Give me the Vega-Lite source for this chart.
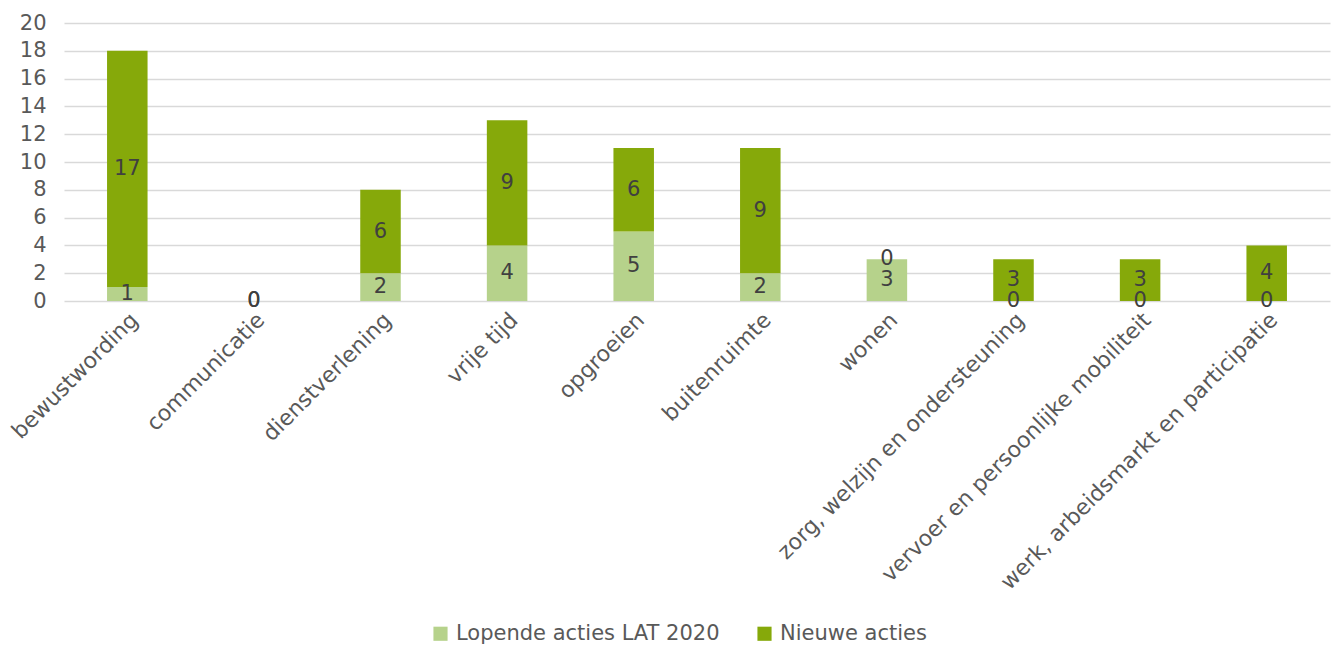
{
  "$schema": "https://vega.github.io/schema/vega-lite/v6.json",
  "autosize": "none",
  "width": 1266,
  "height": 278,
  "padding": {"left": 64, "top": 23, "right": 1, "bottom": 345},
  "background": "white",
  "config": {"view": {"stroke": null}, "font": "DejaVu Sans"},
  "data": {"values": [
    {"cat": "bewustwording", "ci": 1, "serie": "Lopende acties LAT 2020", "so": 1, "v": 1},
    {"cat": "bewustwording", "ci": 1, "serie": "Nieuwe acties", "so": 2, "v": 17},
    {"cat": "communicatie", "ci": 2, "serie": "Lopende acties LAT 2020", "so": 1, "v": 0},
    {"cat": "communicatie", "ci": 2, "serie": "Nieuwe acties", "so": 2, "v": 0},
    {"cat": "dienstverlening", "ci": 3, "serie": "Lopende acties LAT 2020", "so": 1, "v": 2},
    {"cat": "dienstverlening", "ci": 3, "serie": "Nieuwe acties", "so": 2, "v": 6},
    {"cat": "vrije tijd", "ci": 4, "serie": "Lopende acties LAT 2020", "so": 1, "v": 4},
    {"cat": "vrije tijd", "ci": 4, "serie": "Nieuwe acties", "so": 2, "v": 9},
    {"cat": "opgroeien", "ci": 5, "serie": "Lopende acties LAT 2020", "so": 1, "v": 5},
    {"cat": "opgroeien", "ci": 5, "serie": "Nieuwe acties", "so": 2, "v": 6},
    {"cat": "buitenruimte", "ci": 6, "serie": "Lopende acties LAT 2020", "so": 1, "v": 2},
    {"cat": "buitenruimte", "ci": 6, "serie": "Nieuwe acties", "so": 2, "v": 9},
    {"cat": "wonen", "ci": 7, "serie": "Lopende acties LAT 2020", "so": 1, "v": 3},
    {"cat": "wonen", "ci": 7, "serie": "Nieuwe acties", "so": 2, "v": 0},
    {"cat": "zorg, welzijn en ondersteuning", "ci": 8, "serie": "Lopende acties LAT 2020", "so": 1, "v": 0},
    {"cat": "zorg, welzijn en ondersteuning", "ci": 8, "serie": "Nieuwe acties", "so": 2, "v": 3},
    {"cat": "vervoer en persoonlijke mobiliteit", "ci": 9, "serie": "Lopende acties LAT 2020", "so": 1, "v": 0},
    {"cat": "vervoer en persoonlijke mobiliteit", "ci": 9, "serie": "Nieuwe acties", "so": 2, "v": 3},
    {"cat": "werk, arbeidsmarkt en participatie", "ci": 10, "serie": "Lopende acties LAT 2020", "so": 1, "v": 0},
    {"cat": "werk, arbeidsmarkt en participatie", "ci": 10, "serie": "Nieuwe acties", "so": 2, "v": 4}
  ]},
  "transform": [
    {"stack": "v", "groupby": ["cat"], "sort": [{"field": "so", "order": "ascending"}], "as": ["y0", "y1"]},
    {"calculate": "(datum.y0 + datum.y1) / 2", "as": "ymid"}
  ],
  "encoding": {
    "x": {
      "field": "cat", "type": "nominal",
      "sort": {"field": "ci", "order": "ascending"},
      "scale": {"paddingInner": 0.68, "paddingOuter": 0.34},
      "axis": {
        "title": null, "labelAngle": -45, "labelFontSize": 22, "labelColor": "#595959",
        "ticks": false, "domain": false, "labelPadding": 8, "labelLimit": 500, "grid": false,
        "labelOverlap": false
      }
    }
  },
  "layer": [
    {
      "mark": {"type": "bar"},
      "encoding": {
        "y": {
          "field": "y0", "type": "quantitative",
          "scale": {"domain": [0, 20]},
          "axis": {
            "title": null, "values": [0, 2, 4, 6, 8, 10, 12, 14, 16, 18, 20],
            "labelFontSize": 21, "labelColor": "#595959", "ticks": false, "domain": false,
            "gridColor": "#d9d9d9", "gridWidth": 1.5, "labelPadding": 18, "labelOverlap": false
          }
        },
        "y2": {"field": "y1"},
        "color": {
          "field": "serie", "type": "nominal",
          "scale": {"domain": ["Lopende acties LAT 2020", "Nieuwe acties"], "range": ["#b6d28b", "#86a90a"]},
          "legend": {
            "title": null, "orient": "none", "direction": "horizontal",
            "legendX": 366, "legendY": 600,
            "labelFontSize": 21, "labelColor": "#595959", "symbolType": "square",
            "symbolSize": 200, "symbolStrokeWidth": 0, "columnPadding": 34, "labelLimit": 500,
            "labelOffset": 5
          }
        }
      }
    },
    {
      "mark": {"type": "text", "fontSize": 21, "color": "#404040", "baseline": "middle"},
      "encoding": {
        "y": {
          "field": "ymid", "type": "quantitative",
          "scale": {"domain": [0, 20]},
          "axis": {
            "title": null, "values": [0, 2, 4, 6, 8, 10, 12, 14, 16, 18, 20],
            "labelFontSize": 21, "labelColor": "#595959", "ticks": false, "domain": false,
            "gridColor": "#d9d9d9", "gridWidth": 1.5, "labelPadding": 18, "labelOverlap": false
          }
        },
        "text": {"field": "v", "type": "quantitative"}
      }
    }
  ]
}
